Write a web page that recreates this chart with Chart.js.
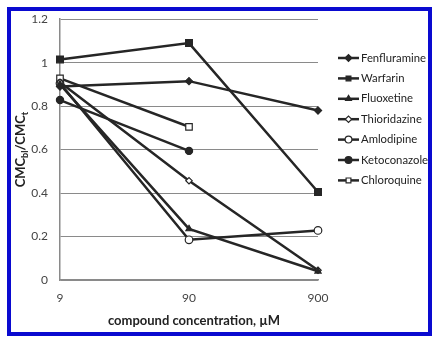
<!DOCTYPE html>
<html>
<head>
<meta charset="utf-8">
<script src="https://cdn.jsdelivr.net/npm/chart.js@4"></script>
<style>
  html, body { margin: 0; padding: 0; background: #fff; }
  #wrap { width: 444px; height: 354px; position: relative; }
</style>
</head>
<body>
<div id="wrap"><canvas id="chartCanvas" width="444" height="354"></canvas></div>
<script>
// datos
const concentrations = ['9', '90', '900'];
const fenfluramine = [0.89, 0.915, 0.78];
const warfarin = [1.015, 1.09, 0.405];
const fluoxetine = [0.90, 0.235, 0.04];
const thioridazine = [0.91, 0.457, 0.045];
const amlodipine = [0.905, 0.185, 0.228];
const ketoconazole = [0.828, 0.594, null];
const chloroquine = [0.928, 0.705, null];
const yTicks = [0, 0.2, 0.4, 0.6, 0.8, 1, 1.2];

const ink = '#262626';

function serie(label, data, style, filled, radius) {
    return {
        label: label,
        data: data,
        borderColor: ink,
        borderWidth: 2.5,
        pointStyle: style,
        pointRadius: radius,
        pointBorderWidth: 1.2,
        pointBorderColor: ink,
        pointBackgroundColor: filled ? ink : '#fff',
        tension: 0
    };
}

// marco azul, títulos y leyenda
const extras = {
    id: 'extras',
    beforeDraw(chart) {
        const c = chart.ctx;
        c.save();
        c.strokeStyle = '#0a0ad0';
        c.lineWidth = 4;
        c.strokeRect(9, 9, 421, 325);
        c.restore();
    },
    afterDraw(chart) {
        const c = chart.ctx;
        const area = chart.chartArea;
        c.save();
        c.fillStyle = '#222';
        // título eje x
        c.font = 'bold 13px Lato';
        c.textAlign = 'center';
        c.textBaseline = 'middle';
        c.fillText('compound concentration, \u00b5M', (area.left + area.right) / 2 + 5, 321);
        // título eje y con subíndices
        c.translate(21, (area.top + area.bottom) / 2);
        c.rotate(-Math.PI / 2);
        const parts = [['CMC', 13, 0], ['bl', 9, 4], ['/CMC', 13, 0], ['t', 9, 4]];
        let total = 0;
        parts.forEach(p => { c.font = 'bold ' + p[1] + 'px Lato'; total += c.measureText(p[0]).width; });
        let x = -total / 2;
        c.textAlign = 'left';
        parts.forEach(p => {
            c.font = 'bold ' + p[1] + 'px Lato';
            c.fillText(p[0], x, p[2]);
            x += c.measureText(p[0]).width;
        });
        c.restore();

        // leyenda
        c.save();
        chart.data.datasets.forEach((ds, i) => {
            const y = 58 + i * 20.4;
            c.strokeStyle = ink;
            c.lineWidth = 2.5;
            c.beginPath();
            c.moveTo(338, y);
            c.lineTo(359, y);
            c.stroke();
            c.fillStyle = ds.pointBackgroundColor;
            c.strokeStyle = ink;
            c.lineWidth = ds.pointBorderWidth;
            Chart.helpers.drawPoint(c, {
                pointStyle: ds.pointStyle,
                radius: Math.min(ds.pointRadius, 3.4),
                rotation: 0,
                borderWidth: ds.pointBorderWidth
            }, 348.5, y);
            c.fillStyle = '#222';
            c.font = '11.3px Lato';
            c.textAlign = 'left';
            c.textBaseline = 'middle';
            c.fillText(ds.label, 361, y);
        });
        c.restore();
    }
};

const ctx = document.getElementById('chartCanvas').getContext('2d');
new Chart(ctx, {
    type: 'line',
    data: {
        labels: concentrations,
        datasets: [
            serie('Fenfluramine', fenfluramine, 'rectRot', true, 3.6),
            serie('Warfarin', warfarin, 'rect', true, 4.8),
            serie('Fluoxetine', fluoxetine, 'triangle', true, 3.6),
            serie('Thioridazine', thioridazine, 'rectRot', false, 3.2),
            serie('Amlodipine', amlodipine, 'circle', false, 3.8),
            serie('Ketoconazole', ketoconazole, 'circle', true, 3.6),
            serie('Chloroquine', chloroquine, 'rect', false, 4.6)
        ]
    },
    options: {
        responsive: false,
        animation: false,
        events: [],
        layout: { padding: { left: 0, right: 126, top: 15, bottom: 0 } },
        plugins: {
            legend: { display: false },
            tooltip: { enabled: false }
        },
        scales: {
            x: {
                offset: false,
                afterFit(scale) { scale.height = 74; },
                grid: { display: false, drawTicks: false },
                border: { display: true, color: '#8a8a8a', width: 1.5 },
                ticks: { color: '#444', font: { family: 'Lato', size: 12 }, padding: 11, maxRotation: 0 }
            },
            y: {
                min: 0,
                max: 1.2,
                afterFit(scale) { scale.width = 60; },
                afterBuildTicks(scale) { scale.ticks = yTicks.map(v => ({ value: v })); },
                grid: { color: '#8a8a8a', lineWidth: 1, drawTicks: false },
                border: { display: true, color: '#8a8a8a', width: 1.5 },
                ticks: {
                    color: '#444',
                    font: { family: 'Lato', size: 12 },
                    padding: 12,
                    callback: v => String(Math.round(v * 10) / 10)
                }
            }
        }
    },
    plugins: [extras]
});
</script>
</body>
</html>
